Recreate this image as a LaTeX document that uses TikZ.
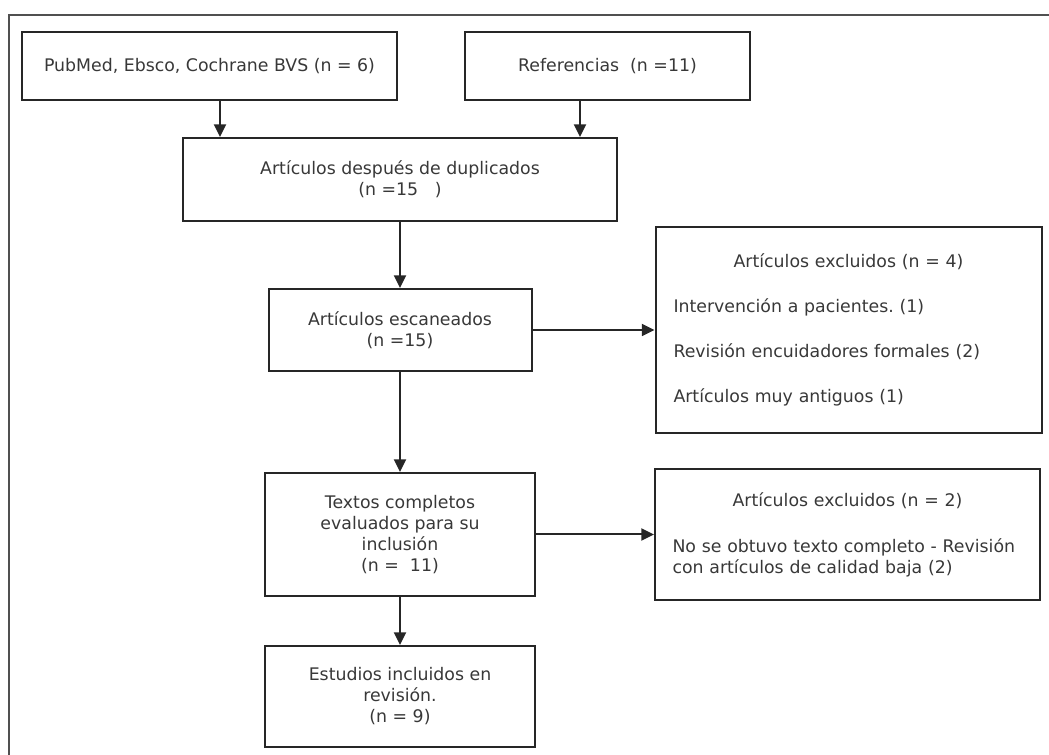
\documentclass[tikz,border=0pt]{standalone}
\usepackage{fontspec}
\setmainfont{DejaVu Sans}
\usepackage{tikz}
\usetikzlibrary{positioning,arrows.meta}
\usepackage{xcolor}
\definecolor{lineclr}{HTML}{262626}
\definecolor{txtclr}{HTML}{383838}
\definecolor{frameclr}{HTML}{505050}
\frenchspacing

\begin{document}
\begin{tikzpicture}[>={Triangle[length=9.5pt,width=9pt]},node distance=49.5pt and 91.5pt,
  box/.style={draw=lineclr,line width=1.5pt,text=txtclr,inner sep=0pt,align=center,font=\fontsize{13pt}{15.75pt}\selectfont},
  flow/.style={->,draw=lineclr,line width=1.5pt}]
\useasboundingbox (0,0) rectangle (786.75pt,-566.25pt);
\draw[frameclr,line width=1.5pt] (6.75pt,-566.25pt) |- (786.75pt,-11.25pt);
\node[box,minimum width=281.25pt,minimum height=51pt] (pub) at (157.1pt,-49.5pt) {PubMed, Ebsco, Cochrane BVS (n = 6)};
\node[box,minimum width=213.75pt,minimum height=51pt] (refs) at (455.6pt,-49.5pt) {Referencias\ \ (n =11)};
\node[box,minimum width=325.5pt,minimum height=62.25pt] (dup) at (300pt,-134.6pt) {Artículos después de duplicados\\(n =15\ \ \ )};
\node[box,minimum width=197.25pt,minimum height=61.5pt,below=of dup] (scan) {Artículos escaneados\\(n =15)};
\node[box,minimum width=289.5pt,minimum height=154.5pt,text width=262.5pt,align=left,right=of scan] (exa) {{\centering Artículos excluidos (n = 4)\par}\vspace{18pt}Intervención a pacientes. (1)\\[18pt]Revisión encuidadores formales (2)\\[18pt]Artículos muy antiguos (1)};
\node[box,minimum width=202.5pt,minimum height=92.25pt,below=75pt of scan] (full) {Textos completos\\evaluados para su\\inclusión\\(n =\ \ 11)};
\node[box,minimum width=288.75pt,minimum height=98.25pt,text width=262.5pt,align=left,right=88.5pt of full] (exb) {{\centering Artículos excluidos (n = 2)\par}\vspace{18.75pt}No se obtuvo texto completo - Revisión\\con artículos de calidad baja (2)};
\node[box,minimum width=202.5pt,minimum height=75.75pt,below=36pt of full] (incl) {Estudios incluidos en\\revisión.\\(n = 9)};
\draw[flow] ([xshift=7.9pt]pub.south) -- ([xshift=7.9pt]pub.south |- dup.north);
\draw[flow] ([xshift=-20.6pt]refs.south) -- ([xshift=-20.6pt]refs.south |- dup.north);
\draw[flow] (dup) -- (scan);
\draw[flow] (scan) -- (exa);
\draw[flow] (scan) -- (full);
\draw[flow] (full) -- (exb);
\draw[flow] (full) -- (incl);
\end{tikzpicture}
\end{document}
